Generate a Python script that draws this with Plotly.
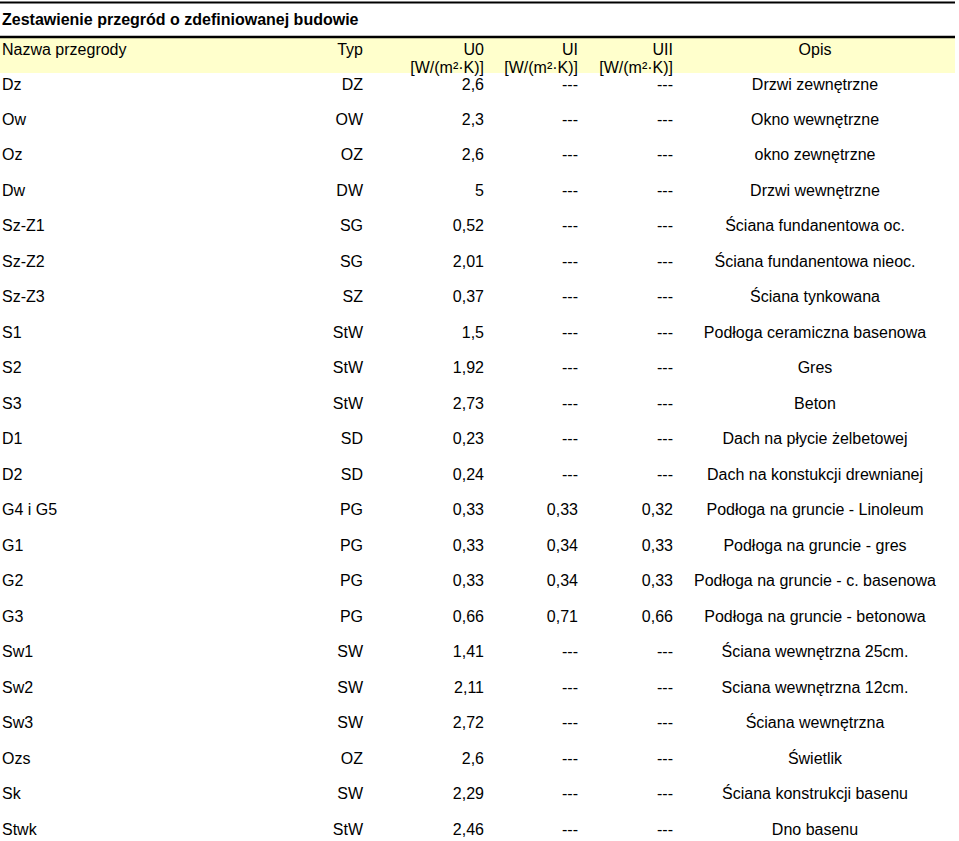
import plotly.graph_objects as go

title = "Zestawienie przegród o zdefiniowanej budowie"
headers = ["Nazwa przegrody", "Typ", "U0", "UI", "UII", "Opis"]
unit = "[W/(m²·K)]"

names = ["Dz", "Ow", "Oz", "Dw", "Sz-Z1", "Sz-Z2", "Sz-Z3", "S1", "S2", "S3", "D1", "D2",
         "G4 i G5", "G1", "G2", "G3", "Sw1", "Sw2", "Sw3", "Ozs", "Sk", "Stwk"]
types = ["DZ", "OW", "OZ", "DW", "SG", "SG", "SZ", "StW", "StW", "StW", "SD", "SD",
         "PG", "PG", "PG", "PG", "SW", "SW", "SW", "OZ", "SW", "StW"]
u0 = [2.6, 2.3, 2.6, 5, 0.52, 2.01, 0.37, 1.5, 1.92, 2.73, 0.23, 0.24,
      0.33, 0.33, 0.33, 0.66, 1.41, 2.11, 2.72, 2.6, 2.29, 2.46]
u1 = [None] * 12 + [0.33, 0.34, 0.34, 0.71] + [None] * 6
u2 = [None] * 12 + [0.32, 0.33, 0.33, 0.66] + [None] * 6
opis = ["Drzwi zewnętrzne", "Okno wewnętrzne", "okno zewnętrzne", "Drzwi wewnętrzne",
        "Ściana fundanentowa oc.", "Ściana fundanentowa nieoc.", "Ściana tynkowana",
        "Podłoga ceramiczna basenowa", "Gres", "Beton", "Dach na płycie żelbetowej",
        "Dach na konstukcji drewnianej", "Podłoga na gruncie - Linoleum",
        "Podłoga na gruncie - gres", "Podłoga na gruncie - c. basenowa",
        "Podłoga na gruncie - betonowa", "Ściana wewnętrzna 25cm.", "Sciana wewnętrzna 12cm.",
        "Ściana wewnętrzna", "Świetlik", "Ściana konstrukcji basenu", "Dno basenu"]

W, H = 959, 841
FONT = "Liberation Sans, Arial, sans-serif"
FS = 16

# layout constants (pixel-space axes)
row0, pitch = 85.5, 35.48
col_name, col_typ, col_u0, col_u1, col_u2, col_opis = 2, 363, 484, 578, 673, 815
title_y, line1_y, line2_y, band_bottom, hdr1_y, hdr2_y = 20.5, 2.5, 37, 73, 50.5, 68.5
right_edge = 955


def fmt(v):
    if v is None:
        return "---"
    return ("%g" % v).replace(".", ",")


rows_y = [row0 + i * pitch for i in range(len(names))]

fig = go.Figure()


def add_col(xpos, texts, ys, pos, bold=False):
    fig.add_trace(go.Scatter(
        x=[xpos] * len(texts), y=ys, text=texts, mode="text", textposition=pos,
        textfont=dict(family=FONT, size=FS, color="black",
                      weight="bold" if bold else "normal"),
        cliponaxis=False, hoverinfo="skip", showlegend=False))


add_col(col_name, names, rows_y, "middle right")
add_col(col_typ, types, rows_y, "middle left")
add_col(col_u0, [fmt(v) for v in u0], rows_y, "middle left")
add_col(col_u1, [fmt(v) for v in u1], rows_y, "middle left")
add_col(col_u2, [fmt(v) for v in u2], rows_y, "middle left")
add_col(col_opis, opis, rows_y, "middle center")

# headers
add_col(col_name, [headers[0]], [hdr1_y], "middle right")
add_col(col_typ, [headers[1]], [hdr1_y], "middle left")
for xc, h in zip([col_u0, col_u1, col_u2], headers[2:5]):
    add_col(xc, [h, unit], [hdr1_y, hdr2_y], "middle left")
add_col(col_opis, [headers[5]], [hdr1_y], "middle center")

# title
add_col(col_name, [title], [title_y], "middle right", bold=True)

fig.update_layout(
    width=W, height=H, margin=dict(l=0, r=0, t=0, b=0),
    paper_bgcolor="white", plot_bgcolor="white",
    xaxis=dict(range=[0, W], visible=False, fixedrange=True),
    yaxis=dict(range=[H, 0], visible=False, fixedrange=True),
    shapes=[
        dict(type="rect", x0=0, x1=right_edge, y0=line2_y, y1=band_bottom,
             fillcolor="#FFFFCC", line=dict(width=0), layer="below"),
        dict(type="line", x0=0, x1=right_edge, y0=line1_y, y1=line1_y,
             line=dict(color="black", width=2)),
        dict(type="line", x0=0, x1=right_edge, y0=line2_y, y1=line2_y,
             line=dict(color="black", width=2.5)),
    ],
)

fig.write_html("out.html", config={"displayModeBar": False},
               post_script="document.body.style.margin='0';document.body.style.overflow='hidden';")
